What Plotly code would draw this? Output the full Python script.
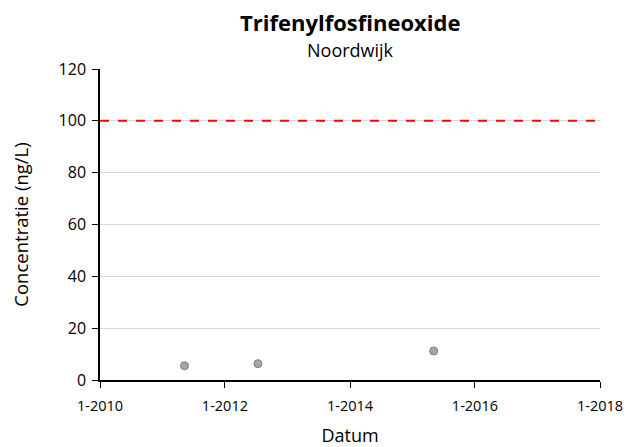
import plotly.graph_objects as go

dates = ["2011-05-10", "2012-07-12", "2015-05-05"]
values = [5.5, 6.3, 11.2]
norm_value = 100
x_ticks = ["2010-01-01", "2012-01-01", "2014-01-01", "2016-01-01", "2018-01-01"]
x_tick_labels = ["1-2010", "1-2012", "1-2014", "1-2016", "1-2018"]
y_ticks = [0, 20, 40, 60, 80, 100, 120]

FONT = "Open Sans, Liberation Sans, sans-serif"

fig = go.Figure()
fig.add_trace(go.Scatter(
    x=dates, y=values, mode="markers",
    marker=dict(size=8, color="#a6a6a6", line=dict(color="#7f7f7f", width=1)),
    showlegend=False,
))
fig.add_shape(type="line", xref="paper", x0=0, x1=1, yref="y", y0=norm_value, y1=norm_value,
              line=dict(color="#ff0000", width=2, dash="dash"))

fig.update_layout(
    width=630, height=439,
    margin=dict(l=92, r=38, t=61, b=67),
    paper_bgcolor="white", plot_bgcolor="white",
    font=dict(family=FONT, color="#000000"),
    annotations=[
        dict(text="<b>Trifenylfosfineoxide</b>", x=0.5, y=1, xref="paper", yref="paper",
             yshift=47, showarrow=False, font=dict(size=22, family=FONT), xanchor="center", yanchor="middle"),
        dict(text="Noordwijk", x=0.5, y=1, xref="paper", yref="paper",
             yshift=19, showarrow=False, font=dict(size=18, family=FONT), xanchor="center", yanchor="middle"),
    ],
)
fig.update_xaxes(
    type="date", range=["2010-01-01", "2018-01-01"],
    tickvals=x_ticks, ticktext=x_tick_labels,
    showline=True, linecolor="#000000", linewidth=1.5,
    ticks="outside", ticklen=6, tickcolor="#000000",
    ticklabelstandoff=6, automargin=False,
    showgrid=False, zeroline=False,
    tickfont=dict(size=14.5),
    title=dict(text="Datum", font=dict(size=18), standoff=16),
)
fig.update_yaxes(
    range=[0, 120], tickvals=y_ticks,
    showline=True, linecolor="#000000", linewidth=1.5,
    ticks="outside", ticklen=6, tickcolor="#000000",
    ticklabelstandoff=3, automargin=False,
    showgrid=True, gridcolor="#d9d9d9", gridwidth=1, zeroline=False,
    tickfont=dict(size=16),
    title=dict(text="Concentratie (ng/L)", font=dict(size=18.5), standoff=26),
)

fig.write_html("out.html")
